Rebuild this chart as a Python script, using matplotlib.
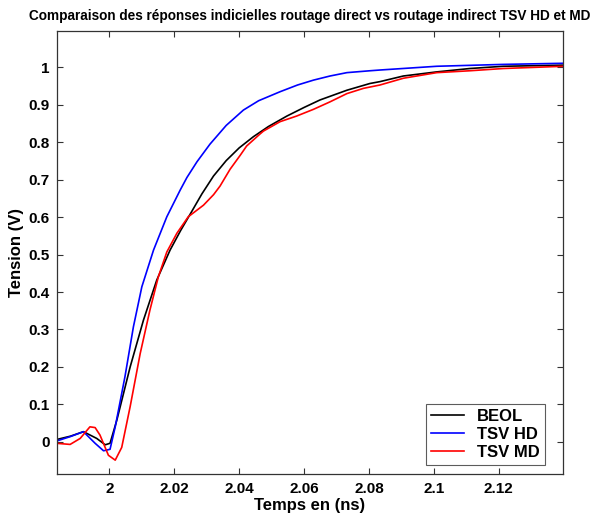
import matplotlib
matplotlib.use("Agg")
import matplotlib.pyplot as plt

# Data (time in ns, voltage in V)
beol_t = [1.9837, 1.9880, 1.9920, 1.9961, 1.9987, 2.0002, 2.0023, 2.0064, 2.0105,
          2.0146, 2.0187, 2.0220, 2.0249, 2.0285, 2.0321, 2.0360, 2.0400, 2.0444,
          2.0490, 2.0547, 2.0600, 2.0649, 2.0732, 2.0803, 2.0834, 2.0906, 2.1009,
          2.1111, 2.1214, 2.1400]
beol_v = [0.006, 0.015, 0.027, 0.009, -0.008, -0.004, 0.058, 0.200, 0.325,
          0.432, 0.512, 0.565, 0.608, 0.662, 0.710, 0.751, 0.785, 0.815,
          0.842, 0.870, 0.893, 0.913, 0.939, 0.957, 0.962, 0.977, 0.988,
          0.997, 1.003, 1.006]

hd_t = [1.9837, 1.9880, 1.9920, 1.9956, 1.9982, 2.0002, 2.0018, 2.0048, 2.0074,
        2.0100, 2.0136, 2.0177, 2.0218, 2.0239, 2.0270, 2.0310, 2.0360, 2.0413,
        2.0460, 2.0526, 2.0580, 2.0629, 2.0680, 2.0732, 2.0803, 2.0834, 2.1009,
        2.1214, 2.1400]
hd_v = [0.002, 0.014, 0.027, -0.004, -0.024, -0.020, 0.040, 0.174, 0.307,
        0.414, 0.512, 0.601, 0.672, 0.706, 0.748, 0.795, 0.845, 0.886,
        0.911, 0.935, 0.953, 0.966, 0.977, 0.986, 0.991, 0.993, 1.003,
        1.008, 1.011]

md_t = [1.9837, 1.9879, 1.9910, 1.9940, 1.9956, 1.9971, 1.9997, 2.0018, 2.0038,
        2.0064, 2.0095, 2.0125, 2.0151, 2.0177, 2.0208, 2.0243, 2.0290, 2.0321,
        2.0341, 2.0372, 2.0403, 2.0423, 2.0464, 2.0475, 2.0526, 2.0577, 2.0629,
        2.0680, 2.0732, 2.0783, 2.0834, 2.0906, 2.1009, 2.1111, 2.1214, 2.1400]
md_v = [-0.004, -0.007, 0.009, 0.040, 0.038, 0.018, -0.036, -0.049, -0.015,
        0.094, 0.236, 0.352, 0.441, 0.507, 0.557, 0.601, 0.632, 0.660,
        0.683, 0.728, 0.765, 0.790, 0.822, 0.830, 0.855, 0.870, 0.888,
        0.908, 0.930, 0.944, 0.953, 0.971, 0.986, 0.991, 0.997, 1.003]

series_names = ["BEOL", "TSV HD", "TSV MD"]
xticks = [2.0, 2.02, 2.04, 2.06, 2.08, 2.1, 2.12]
xticklabels = ["2", "2.02", "2.04", "2.06", "2.08", "2.1", "2.12"]
yticks = [0, 0.1, 0.2, 0.3, 0.4, 0.5, 0.6, 0.7, 0.8, 0.9, 1.0]
yticklabels = ["0", "0.1", "0.2", "0.3", "0.4", "0.5", "0.6", "0.7", "0.8", "0.9", "1"]

plt.rcParams['font.family'] = ['Liberation Sans', 'DejaVu Sans']
plt.rcParams['font.weight'] = 'bold'

fig = plt.figure(figsize=(5.93, 5.14), dpi=100)
ax = fig.add_axes([56.5 / 593, 40 / 514, (563 - 56.5) / 593, (474 - 30.7) / 514])

ax.plot(beol_t, beol_v, color='black', lw=1.2, label=series_names[0])
ax.plot(hd_t, hd_v, color='#0000ff', lw=1.2, label=series_names[1])
ax.plot(md_t, md_v, color='#ff0000', lw=1.2, label=series_names[2])

ax.set_xlim(1.9837, 2.1398)
ax.set_ylim(-0.086, 1.098)
ax.set_xticks(xticks)
ax.set_xticklabels(xticklabels)
ax.set_yticks(yticks)
ax.set_yticklabels(yticklabels)
ax.tick_params(direction='in', length=4, width=0.8, top=True, right=True,
               labelsize=11, color='#333333')
ax.tick_params(axis='x', pad=6)
ax.tick_params(axis='y', pad=5)
for lab in ax.get_xticklabels() + ax.get_yticklabels():
    lab.set_fontweight('bold')
for sp in ax.spines.values():
    sp.set_color('#333333')
    sp.set_linewidth(0.9)

ax.set_xlabel("Temps en (ns)", fontsize=12, fontweight='bold', labelpad=1)
ax.set_ylabel("Tension (V)", fontsize=12, fontweight='bold', labelpad=3)
ax.set_title("Comparaison des réponses indicielles routage direct vs routage indirect TSV HD et MD",
             fontsize=9.8, fontweight='bold', pad=8)

leg = ax.legend(loc='lower right', fontsize=12, frameon=True, fancybox=False,
                edgecolor='#333333', handlelength=2.0, handletextpad=0.8,
                borderpad=0.3, labelspacing=0.18, borderaxespad=0,
                bbox_to_anchor=((545 - 56.5) / 506.5, (474 - 465) / 443.3))
leg.get_frame().set_linewidth(0.8)
for t in leg.get_texts():
    t.set_fontweight('bold')

fig.savefig("out.png", dpi=100)
